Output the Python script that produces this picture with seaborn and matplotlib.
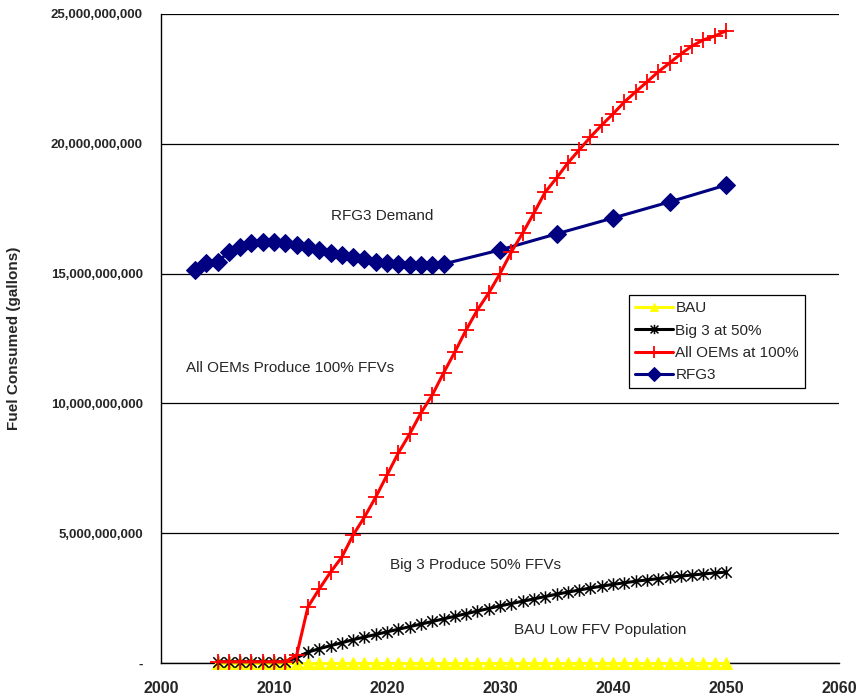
import numpy as np
import pandas as pd
import seaborn as sns
import matplotlib
matplotlib.use("Agg")
import matplotlib.pyplot as plt
from matplotlib.path import Path
from matplotlib.ticker import FuncFormatter, MultipleLocator

# ---- data (fuel consumed, billions of gallons) ----
years_ffv = list(range(2005, 2051))

bau = [0.02] * len(years_ffv)

big3_50 = [0.05, 0.05, 0.05, 0.05, 0.05, 0.05, 0.05, 0.20,
           0.42, 0.55, 0.67, 0.78, 0.90, 1.00, 1.10, 1.20, 1.30, 1.40,
           1.50, 1.60, 1.70, 1.80, 1.90, 2.00, 2.10, 2.20, 2.29, 2.38,
           2.47, 2.56, 2.65, 2.73, 2.81, 2.89, 2.96, 3.03, 3.09, 3.15,
           3.20, 3.25, 3.30, 3.35, 3.39, 3.43, 3.47, 3.50]

all_oems_100 = [0.05, 0.05, 0.05, 0.05, 0.05, 0.05, 0.05, 0.30,
                2.16, 2.85, 3.50, 4.08, 4.93, 5.62, 6.39, 7.24, 8.09, 8.82,
                9.63, 10.32, 11.17, 11.98, 12.83, 13.60, 14.25, 15.00, 15.83,
                16.56, 17.33, 18.14, 18.68, 19.26, 19.76, 20.26, 20.72, 21.15,
                21.61, 22.00, 22.38, 22.77, 23.11, 23.46, 23.77, 24.00, 24.15,
                24.35]

years_rfg3 = list(range(2003, 2026)) + [2030, 2035, 2040, 2045, 2050]
rfg3 = [15.14, 15.41, 15.45, 15.83, 16.03, 16.18, 16.22, 16.22, 16.18,
        16.10, 16.03, 15.91, 15.79, 15.72, 15.64, 15.56, 15.45, 15.41,
        15.37, 15.33, 15.33, 15.33, 15.37,
        15.91, 16.53, 17.14, 17.76, 18.41]

series_names = ["BAU", "Big 3 at 50%", "All OEMs at 100%", "RFG3"]

# ---- styling ----
sns.set_style("white")
plt.rcParams["font.family"] = ["Liberation Sans", "DejaVu Sans"]

fig = plt.figure(figsize=(8.57, 6.98), dpi=100)
ax = fig.add_axes([0.1879, 0.0501, 0.7911, 0.9299])

# asterisk marker: an X with a vertical stroke
star_path = Path(
    [(-1, -1), (1, 1), (-1, 1), (1, -1), (0, -1.2), (0, 1.2)],
    [Path.MOVETO, Path.LINETO, Path.MOVETO, Path.LINETO, Path.MOVETO, Path.LINETO],
)

B = 1e9
sns.lineplot(x=years_ffv, y=np.array(bau) * B, ax=ax, color="#FFFF00",
             lw=2.2, marker="^", ms=8, mec="#FFFF00", mfc="#FFFF00",
             label=series_names[0], zorder=3, clip_on=False)
sns.lineplot(x=years_ffv, y=np.array(big3_50) * B, ax=ax, color="black",
             lw=2.2, marker=star_path, ms=9, mew=1.1, mec="black",
             label=series_names[1], zorder=4, clip_on=False)
sns.lineplot(x=years_rfg3, y=np.array(rfg3) * B, ax=ax, color="#000080",
             lw=2.2, marker="D", ms=9, mec="#000080", mfc="#000080",
             label=series_names[3], zorder=5)
sns.lineplot(x=years_ffv, y=np.array(all_oems_100) * B, ax=ax, color="#FF0000",
             lw=2.2, marker="+", ms=12, mew=1.3, mec="#FF0000",
             label=series_names[2], zorder=6, clip_on=False)

# ---- axes ----
ax.set_xlim(2000, 2060)
ax.set_ylim(0, 25e9)
ax.xaxis.set_major_locator(MultipleLocator(10))
ax.yaxis.set_major_locator(MultipleLocator(5e9))
ax.yaxis.set_major_formatter(
    FuncFormatter(lambda v, p: "-" if abs(v) < 1 else f"{v:,.0f}"))
ax.grid(axis="y", color="black", lw=0.9)
ax.grid(axis="x", visible=False)
ax.set_axisbelow(True)
for side in ["top", "right"]:
    ax.spines[side].set_visible(False)
for side in ["left", "bottom"]:
    ax.spines[side].set_color("black")
    ax.spines[side].set_linewidth(1.0)
ax.tick_params(axis="both", which="major", direction="out", length=5,
               width=1, color="black")
ax.tick_params(axis="y", labelsize=9.5, pad=8)
ax.tick_params(axis="x", labelsize=11.5, pad=8)
for lbl in ax.get_xticklabels() + ax.get_yticklabels():
    lbl.set_fontweight("bold")
ax.set_xlabel("")
ax.set_ylabel("Fuel Consumed (gallons)", fontsize=11, fontweight="bold")
ax.yaxis.set_label_coords(-0.207, 0.50)

# ---- annotations ----
ax.text(2019.6, 17.22e9, "RFG3 Demand", fontsize=11, ha="center", va="center")
ax.text(2002.2, 11.36e9, "All OEMs Produce 100% FFVs", fontsize=11,
        ha="left", va="center")
ax.text(2020.3, 3.77e9, "Big 3 Produce 50% FFVs", fontsize=11,
        ha="left", va="center")
ax.text(2031.2, 1.27e9, "BAU Low FFV Population", fontsize=11,
        ha="left", va="center")

# ---- legend ----
handles, labels = ax.get_legend_handles_labels()
order = [labels.index(n) for n in series_names]
leg = ax.legend([handles[i] for i in order], [labels[i] for i in order],
                loc="upper left", bbox_to_anchor=(0.69, 0.567),
                fontsize=11, frameon=True, fancybox=False, framealpha=1,
                edgecolor="black", borderpad=0.4, handlelength=2.5,
                handletextpad=0.15, labelspacing=0.55, markerscale=0.75,
                borderaxespad=0)
leg.get_frame().set_linewidth(0.9)

fig.savefig("out.png", dpi=100)
